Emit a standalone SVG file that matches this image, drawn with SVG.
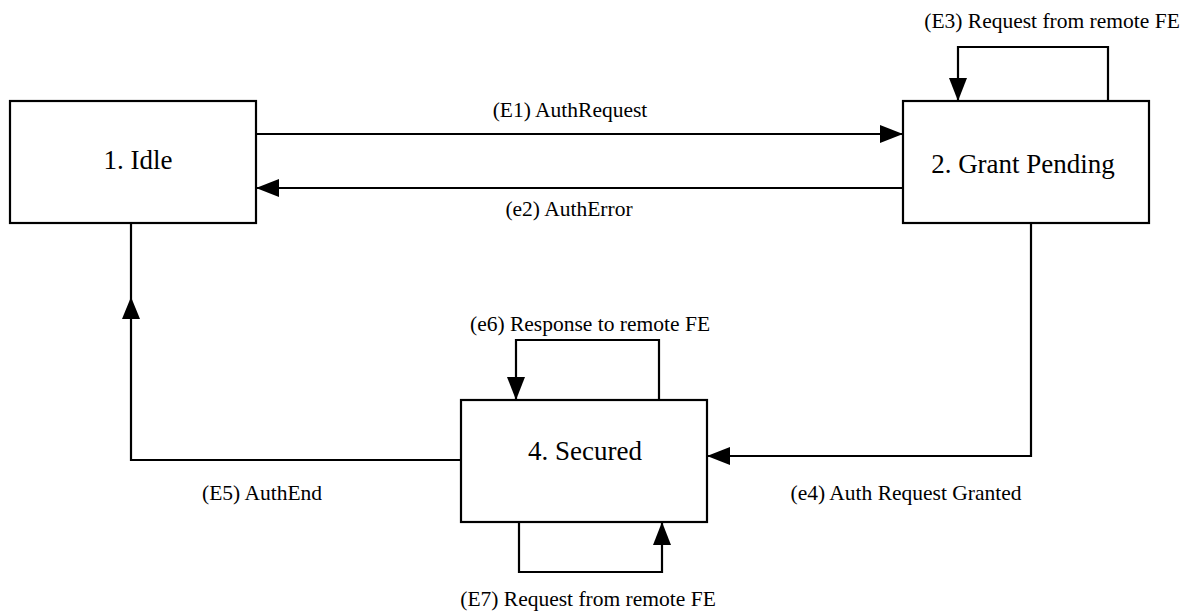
<svg xmlns="http://www.w3.org/2000/svg" width="1188" height="611" viewBox="0 0 1188 611">
<style>
.box{fill:#fff;stroke:#000;stroke-width:2.2}
.ntxt{font-family:"Liberation Serif","Times New Roman",serif;font-size:27px;fill:#000;text-anchor:middle}
.ltxt{font-family:"Liberation Serif","Times New Roman",serif;font-size:21.5px;fill:#000;text-anchor:middle}
.edge{fill:none;stroke:#000;stroke-width:2.2}
.arr{marker-end:url(#ah)}
</style>
<defs>
<marker id="ah" markerUnits="userSpaceOnUse" markerWidth="24" markerHeight="18" refX="23" refY="9" orient="auto">
<path d="M0,0 L23,9 L0,18 z" fill="#000"/>
</marker>
</defs>
<rect width="1188" height="611" fill="#fff"/>
<g id="connectors">
<g id="e-E1"><path class="edge arr" d="M256,134 H903"/><text class="ltxt" x="570" y="117">(E1) AuthRequest</text></g>
<g id="e-e2"><path class="edge arr" d="M903,188 H256"/><text class="ltxt" x="569" y="216">(e2) AuthError</text></g>
<g id="e-E3"><path class="edge arr" d="M1108,101 V47 H958 V101"/><text class="ltxt" x="1052" y="28">(E3) Request from remote FE</text></g>
<g id="e-e4"><path class="edge arr" d="M1031,223 V456 H707"/><text class="ltxt" x="906" y="500">(e4) Auth Request Granted</text></g>
<g id="e-E5"><path class="edge" d="M461,460 H131 V223"/><polygon points="131,297 122,319 140,319" fill="#000"/><text class="ltxt" x="262" y="500">(E5) AuthEnd</text></g>
<g id="e-e6"><path class="edge arr" d="M659,400 V340 H516 V400"/><text class="ltxt" x="590" y="331">(e6) Response to remote FE</text></g>
<g id="e-E7"><path class="edge arr" d="M519,522 V572 H662 V522"/><text class="ltxt" x="588" y="606">(E7) Request from remote FE</text></g>
</g>
<g id="node-idle"><rect class="box" x="10" y="101" width="246" height="122"/><text class="ntxt" x="138" y="169">1. Idle</text></g>
<g id="node-grant"><rect class="box" x="903" y="101" width="246" height="122"/><text class="ntxt" x="1023" y="173">2. Grant Pending</text></g>
<g id="node-secured"><rect class="box" x="461" y="400" width="246" height="122"/><text class="ntxt" x="585" y="460">4. Secured</text></g>
</svg>
